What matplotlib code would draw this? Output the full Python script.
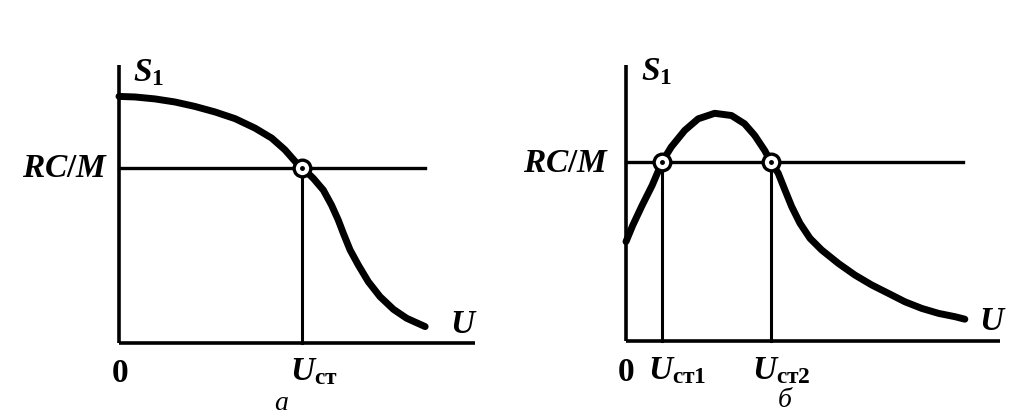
import numpy as np
import matplotlib
matplotlib.use('Agg')
import matplotlib.pyplot as plt

plt.rcParams['mathtext.fontset'] = 'custom'
plt.rcParams['mathtext.it'] = 'Liberation Serif:italic:bold'
plt.rcParams['mathtext.rm'] = 'Liberation Serif:bold'
plt.rcParams['mathtext.bf'] = 'Liberation Serif:bold'

# --- данные ---
# а) одна точка пересечения
u_a = [0.0, 0.45, 1.01, 1.57, 2.13, 2.70, 3.26, 3.82, 4.29, 4.66, 4.99, 5.15,
       5.46, 5.74, 5.97, 6.16, 6.30, 6.49, 6.72, 7.00, 7.33, 7.71, 8.08, 8.60]
s_a = [8.87, 8.85, 8.78, 8.67, 8.51, 8.31, 8.07, 7.73, 7.37, 6.95, 6.47, 6.30,
       5.92, 5.50, 4.96, 4.42, 3.95, 3.35, 2.81, 2.21, 1.67, 1.21, 0.89, 0.59]
level_a = 6.3
u_st = [5.15]
line_end_a = 8.6

# б) две точки пересечения
u_b = [0.0, 0.18, 0.43, 0.70, 0.97, 1.21, 1.57, 1.93, 2.37, 2.82, 3.17, 3.44, 3.71, 3.87,
       4.07, 4.25, 4.43, 4.65, 4.92, 5.23, 5.68, 6.12, 6.57, 7.01, 7.46, 7.91, 8.36, 8.80, 9.06]
s_b = [3.60, 4.19, 4.91, 5.64, 6.50, 7.03, 7.63, 8.05, 8.25, 8.17, 7.87, 7.45, 6.90, 6.50,
       6.08, 5.47, 4.87, 4.27, 3.72, 3.30, 2.81, 2.39, 2.03, 1.73, 1.42, 1.18, 1.00, 0.88, 0.79]
level_b = 6.5
u_st_b = [0.97, 3.87]
line_end_b = 9.0

fig = plt.figure(figsize=(10.31, 4.19), dpi=100)
W, H = 1031, 419

ax_a = fig.add_axes([119 / W, (H - 343) / H, 356 / W, 278 / H])
ax_b = fig.add_axes([626 / W, (H - 341) / H, 374 / W, 276 / H])

big = 24
small_lbl = 20


def setup(ax):
    ax.set_xlim(0, 10)
    ax.set_ylim(0, 10)
    for side in ['top', 'right']:
        ax.spines[side].set_visible(False)
    for side in ['left', 'bottom']:
        ax.spines[side].set_linewidth(2.6)
        ax.spines[side].set_capstyle('butt')
    ax.set_xticks([])
    ax.set_yticks([])
    ax.patch.set_alpha(0)


def draw(ax, u, s, level, line_end, crossings):
    ax.plot([0, line_end], [level, level], color='black', lw=2.4, clip_on=False, zorder=2)
    for uc in crossings:
        ax.plot([uc, uc], [0, level], color='black', lw=2.2, clip_on=False, zorder=2)
    ax.plot(u, s, color='black', lw=5, solid_capstyle='round', solid_joinstyle='round',
            clip_on=False, zorder=3)
    for uc in crossings:
        ax.plot(uc, level, marker='o', ms=12, mfc='white', mec='black', mew=2.4,
                clip_on=False, zorder=4)
        ax.plot(uc, level, marker='o', ms=2.5, color='black', clip_on=False, zorder=5)


setup(ax_a)
setup(ax_b)
draw(ax_a, u_a, s_a, level_a, line_end_a, u_st)
draw(ax_b, u_b, s_b, level_b, line_end_b, u_st_b)

# --- подписи ---
kw = dict(fontsize=big, color='black', clip_on=False)
ax_a.text(0.4, 9.75, r'$S_{\mathrm{1}}$', ha='left', va='center', **kw)
ax_a.text(-0.3, 6.3, r'$RC/M$', ha='right', va='center', **kw)
ax_a.text(9.3, 0.7, r'$U$', ha='left', va='center', **kw)
ax_a.text(0.03, -1.05, r'$\mathrm{0}$', ha='center', va='center', **kw)
ax_a.text(4.8, -1.0, r'$U_{\mathrm{ст}}$', ha='left', va='center', **kw)
ax_a.text(4.55, -2.4, 'a', ha='center', va='baseline', fontsize=small_lbl,
          family='Liberation Serif', style='italic', clip_on=False)

ax_b.text(0.4, 9.78, r'$S_{\mathrm{1}}$', ha='left', va='center', **kw)
ax_b.text(-0.43, 6.45, r'$RC/M$', ha='right', va='center', **kw)
ax_b.text(9.45, 0.76, r'$U$', ha='left', va='center', **kw)
ax_b.text(0.0, -1.1, r'$\mathrm{0}$', ha='center', va='center', **kw)
ax_b.text(0.6, -1.05, r'$U_{\mathrm{ст1}}$', ha='left', va='center', **kw)
ax_b.text(3.37, -1.05, r'$U_{\mathrm{ст2}}$', ha='left', va='center', **kw)
ax_b.text(4.25, -2.4, 'б', ha='center', va='baseline', fontsize=small_lbl,
          family='Liberation Serif', style='italic', clip_on=False)

fig.savefig('out.png', dpi=100, facecolor='white')
